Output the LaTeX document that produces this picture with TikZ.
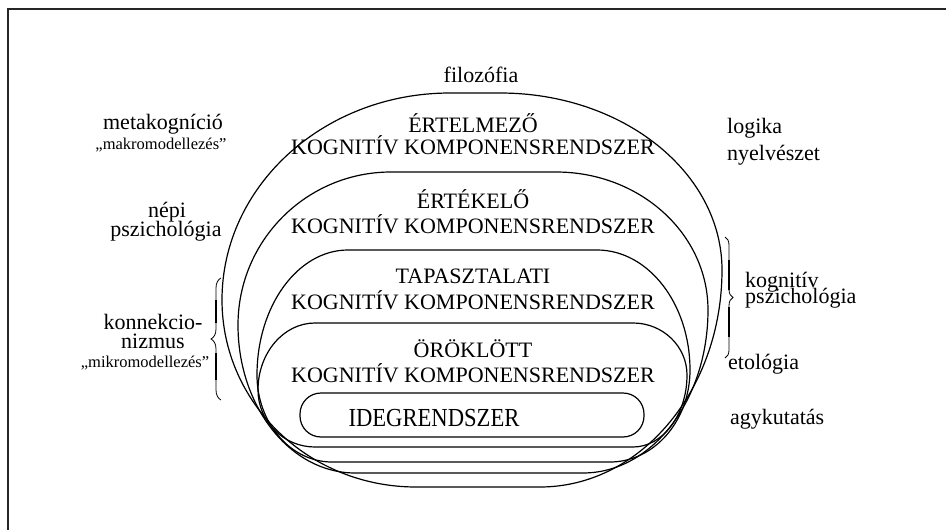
\documentclass[tikz,border=0pt]{standalone}
\usepackage{fontspec}
\setmainfont{Liberation Serif}
\usetikzlibrary{decorations.pathreplacing}
\def\kq{0.5523}
% #1 T, #2 B, #3 L, #4 YL, #5 R, #6 YR, #7 TLx, #8 BLx, #9 TRx, \BRx
\newcommand\mkshape[9]{%
 \draw[shp] (#7,#1) -- (#9,#1)
  .. controls ({#9+\kq*(#5-#9)},#1) and (#5,{#6-\kq*(#6-#1)}) .. (#5,#6)
  .. controls (#5,{#6+\kq*(#2-#6)}) and ({\BRx+\kq*(#5-\BRx)},#2) .. (\BRx,#2)
  -- (#8,#2)
  .. controls ({#8-\kq*(#8-#3)},#2) and (#3,{#4+\kq*(#2-#4)}) .. (#3,#4)
  .. controls (#3,{#4-\kq*(#4-#1)}) and ({#7-\kq*(#7-#3)},#1) .. (#7,#1) -- cycle;}
\tikzset{
  shp/.style={line width=1.2pt, black},
  frame/.style={line width=2pt, black!85},
  lbl/.style={inner sep=0pt, anchor=base, font=\fontsize{22}{24}\selectfont},
  lbll/.style={inner sep=0pt, anchor=base west, font=\fontsize{22}{24}\selectfont},
  sml/.style={inner sep=0pt, anchor=base, font=\fontsize{16.5}{18}\selectfont},
  captext/.style={inner sep=0pt, anchor=base, font=\fontsize{22}{24}\selectfont},
  brc/.style={decorate, decoration={brace, amplitude=#1}, line width=0.8pt},
  brcbar/.style={line width=2.6pt}
}
\begin{document}
\begin{tikzpicture}[x=1pt,y=-1pt]
\useasboundingbox (0,0) rectangle (946,530);
\draw[frame] (8,540) -- (8,9) -- (960,9);
% nested shapes
\def\BRx{540}\mkshape{93}{487}{222}{300}{722}{270}{450}{416}{500}
\def\BRx{583}\mkshape{172}{473}{238}{325}{708}{310}{391}{355}{556}
\def\BRx{610}\mkshape{250}{462}{257}{375}{690}{370}{348}{332}{597}
\def\BRx{633}\mkshape{323}{447}{258}{390}{687}{375}{315}{315}{633}
\draw[shp, rounded corners=21pt] (300,393) rectangle (644,437);
% inner texts
\node[captext] (e1) at (473,132) {ÉRTELMEZŐ};
\node[captext] (k1) at (473,154) {KOGNITÍV KOMPONENSRENDSZER};
\node[captext] (e2) at (473,208) {ÉRTÉKELŐ};
\node[captext] (k2) at (473,233) {KOGNITÍV KOMPONENSRENDSZER};
\node[captext] (e3) at (473,283) {TAPASZTALATI};
\node[captext] (k3) at (473,309) {KOGNITÍV KOMPONENSRENDSZER};
\node[captext] (e4) at (473,357) {ÖRÖKLÖTT};
\node[captext] (k4) at (473,382) {KOGNITÍV KOMPONENSRENDSZER};
\node[inner sep=0pt, anchor=base] (ide) at (434,426) {\scalebox{0.87}[1]{\fontsize{26}{28}\selectfont IDEGRENDSZER}};
% outer labels
\node[lbl] (fil) at (481,82) {filozófia};
\node[lbl] (meta) at (163,129) {metakogníció};
\node[sml] (makro) at (161,149) {„makromodellezés”};
\node[lbl] (nepi) at (167,217) {népi};
\node[lbl] (psz1) at (166,236) {pszichológia};
\node[lbl] (konn) at (153,329) {konnekcio-};
\node[lbl] (niz) at (153,348) {nizmus};
\node[sml] (mikro) at (145,367) {„mikromodellezés”};
\node[lbll] (log) at (727,133) {logika};
\node[lbll] (nyelv) at (727,160) {nyelvészet};
\node[lbll] (kog) at (745,287) {kognitív};
\node[lbll] (psz2) at (745,303) {pszichológia};
\node[lbll] (eto) at (728,369) {etológia};
\node[lbll] (agy) at (730,424) {agykutatás};
% braces
\coordinate (lb1) at (221,400);
\coordinate (lb2) at (221,278);
\coordinate (rb1) at (725,237);
\coordinate (rb2) at (725,358);
\draw[brc=10pt] (lb1) -- (lb2);
\draw[brc=8pt] (rb1) -- (rb2);
\draw[brcbar] (216,300) -- (216,323) (216,353) -- (216,380);
\draw[brcbar] (729,260) -- (729,290) (729,307) -- (729,337);
\end{tikzpicture}
\end{document}
